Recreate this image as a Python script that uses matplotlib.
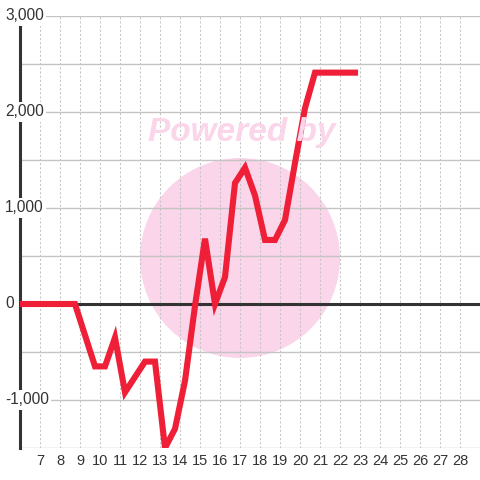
import matplotlib
matplotlib.use("Agg")
import matplotlib.pyplot as plt
import matplotlib.transforms as mtransforms
from matplotlib.patches import Ellipse

plt.rcParams['font.family'] = ['Liberation Sans', 'DejaVu Sans']

# ---- data ----
x_values = [5.75, 6.25, 6.75, 7.25, 7.75, 8.25, 8.75, 9.25, 9.75, 10.25,
            10.75, 11.25, 11.75, 12.25, 12.75, 13.25, 13.75, 14.25, 14.75, 15.25,
            15.75, 16.25, 16.75, 17.25, 17.75, 18.25, 18.75, 19.25, 19.75, 20.25,
            20.75, 21.25, 21.75, 22.25, 22.75]
values = [0, 0, 0, 0, 0, 0, 0, -325, -650, -650,
          -350, -920, -760, -600, -600, -1500, -1300, -800, -20, 680,
          0, 280, 1260, 1420, 1130, 667, 667, 875, 1470, 2040,
          2410, 2410, 2410, 2410, 2410]

x_ticks = list(range(7, 29))
x_tick_labels = [str(v) for v in x_ticks]
y_grid = list(range(-1500, 3001, 500))
y_label_values = [-1000, 0, 1000, 2000, 3000]
y_label_texts = ["-1,000", "0", "1,000", "2,000", "3,000"]
watermark_text = "Powered by"

# ---- figure ----
W = H = 480
fig = plt.figure(figsize=(4.8, 4.8), dpi=100, facecolor='white')
ax = fig.add_axes([20 / W, 32 / H, 460 / W, 432 / H])
ax.set_xlim(6, 29)
ax.set_ylim(-1500, 3000)

# watermark
pink = '#fbd5ea'
ax.add_patch(Ellipse((240 / W, 1 - 258 / H), 200 / W, 200 / H,
                     transform=fig.transFigure, facecolor=pink,
                     edgecolor='none', zorder=0.5))
fig.text(242 / W, 1 - 133 / H, watermark_text, ha='center', va='center',
         fontsize=24, fontweight='bold', fontstyle='italic', color=pink,
         zorder=0.6)

# grids
ax.set_xticks(x_ticks)
ax.set_xticklabels(x_tick_labels)
ax.set_yticks(y_grid)
ax.tick_params(axis='y', length=0, labelleft=False)
ax.tick_params(axis='x', length=0, labelsize=10.5, labelcolor='#333333', pad=4.5)
ax.grid(axis='x', linestyle=(0, (2, 2)), color='#c4c4c4', linewidth=0.75)
ax.grid(axis='y', linestyle='-', color='#c4c4c4', linewidth=1.0)
ax.set_axisbelow(True)

for side in ['top', 'right', 'bottom']:
    ax.spines[side].set_visible(False)
ax.spines['left'].set_color('#333333')
ax.spines['left'].set_linewidth(2.2)

ax.axhline(0, color='#333333', linewidth=2.2, zorder=3)

ax.plot(x_values, values, color='#ee1f36', linewidth=4.4,
        solid_joinstyle='miter', solid_capstyle='projecting', zorder=4)

trans = mtransforms.blended_transform_factory(fig.transFigure, ax.transData)
for v, t in zip(y_label_values, y_label_texts):
    ax.text(5 / W, v, t, transform=trans, ha='left', va='center',
            fontsize=11.2, color='#333333', zorder=6, clip_on=False,
            bbox=dict(facecolor='white', edgecolor='none', pad=1.5))

fig.savefig('out.png', dpi=100, facecolor='white')
